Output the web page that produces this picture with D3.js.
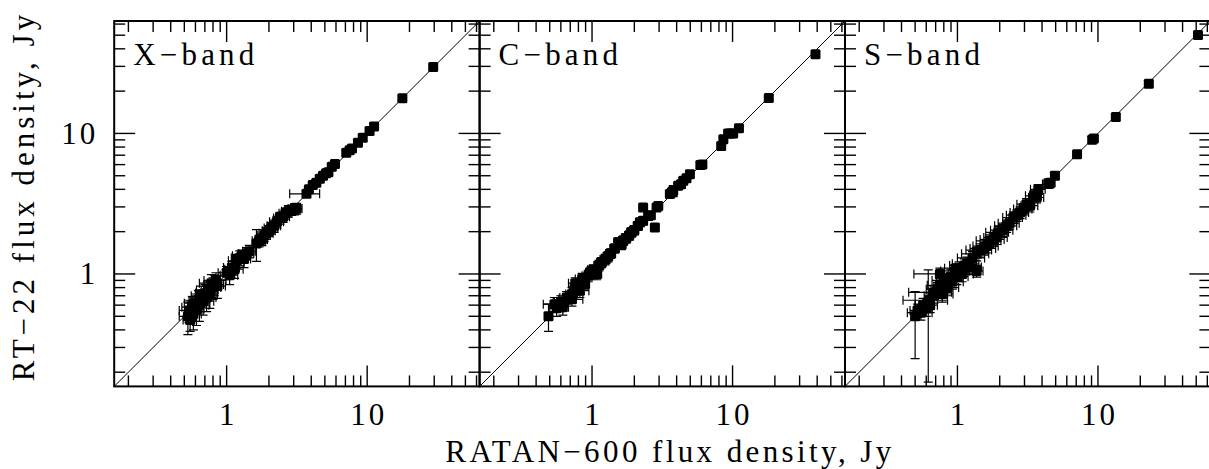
<!DOCTYPE html>
<html>
<head>
<meta charset="utf-8">
<style>
  body { margin: 0; background: #fff; }
  text { font-family: "Liberation Serif", serif; fill: #000; }
</style>
</head>
<body>
<script src="https://d3js.org/d3.v7.min.js"></script>
<script>
// ---- data ----
const bandNames = ["X\u2212band", "C\u2212band", "S\u2212band"];
const tickLabelValues = [1, 10];
const tickLabels = ["1", "10"];

// X-band
const xbandRatan = [0.53,0.54,0.55,0.57,0.58,0.60,0.61,0.63,0.64,0.66, 0.68,0.70,0.72,0.74,0.76,0.78,0.80,0.82,0.84,0.86,
  1.00,1.05,1.09,1.14,1.18,1.24,1.28,1.33,1.39,1.45,
  1.63,1.70,1.78,1.85,1.92,2.00,2.08,2.18,2.28,2.40,2.52,2.62,2.75,2.90,3.05,3.15,
  3.70,3.85,4.10,4.35,4.60,4.85,5.10,5.30,5.60,5.90,7.10,7.50,7.80,8.60,9.30,10.4,11.2,17.8,29.5];
const xbandRt22 = [0.50,0.55,0.47,0.58,0.52,0.62,0.56,0.65,0.60,0.70, 0.64,0.73,0.68,0.77,0.72,0.86,0.80,0.84,0.90,0.82,
  1.02,0.98,1.11,1.08,1.24,1.30,1.35,1.28,1.40,1.45,
  1.65,1.72,1.76,1.88,1.95,2.03,2.12,2.20,2.35,2.50,2.55,2.70,2.80,2.85,2.90,2.92,
  3.72,4.00,4.30,4.45,4.75,5.00,5.20,5.30,5.80,6.05,7.30,7.60,7.80,8.60,9.30,10.4,11.2,17.8,29.7];
const xbandRatanErr = [0.07,0.08,0.06,0.09,0.08,0.10,0.08,0.09,0.11,0.10, 0.13,0.10,0.12,0.13,0.10,0.14,0.11,0.13,0.15,0.12,
  0.13,0.15,0.14,0.17,0.15,0.16,0.18,0.15,0.17,0.15,
  0.08,0.18,0.17,0.20,0.22,0.21,0.23,0.24,0.26,0.24,0.28,0.26,0.29,0.28,0.30,0.29,
  0.89,0.20,0.22,0.20,0.24,0.25,0.26,0.26,0.28,0.30,0.35,0.35,0.38,0.40,0.45,0.50,0.55,0.80,1.30];
const xbandRt22Err = [0.13,0.10,0.08,0.11,0.12,0.10,0.13,0.11,0.14,0.12, 0.13,0.11,0.14,0.12,0.15,0.13,0.14,0.14,0.12,0.15,
  0.11,0.14,0.12,0.15,0.14,0.16,0.13,0.17,0.14,0.15,
  0.42,0.16,0.17,0.18,0.19,0.18,0.20,0.22,0.22,0.24,0.22,0.24,0.26,0.24,0.27,0.26,
  0.18,0.20,0.22,0.22,0.24,0.25,0.26,0.26,0.28,0.30,0.35,0.35,0.38,0.40,0.45,0.50,0.55,0.80,1.30];

// C-band
const cbandRatan = [0.49,0.54,0.56,0.60,0.62,0.66,0.72,0.72,0.76,0.78, 0.82,0.85,0.88,0.94,0.98,1.02,1.08,1.12,1.17,1.24,
  1.30,1.36,1.45,1.54,1.62,1.67,1.75,1.84,1.91,2.00, 2.12,2.20,2.31,2.31,2.51,2.62,2.80,2.88,2.96,3.58,
  3.70,3.78,4.10,4.30,4.46,4.70,4.97,5.90,6.10,8.30, 8.60,9.30,9.70,10.1,11.1,18.1,38.9];
const cbandRt22 = [0.50,0.61,0.57,0.63,0.58,0.68,0.66,0.72,0.86,0.79, 0.76,0.92,0.85,0.97,1.03,1.07,1.00,1.15,1.21,1.27,
  1.33,1.40,1.52,1.68,1.62,1.73,1.80,1.88,1.98,2.05, 2.20,2.33,2.39,2.97,2.59,2.62,2.14,2.97,3.05,3.70,
  3.82,3.90,4.24,4.35,4.60,4.80,5.13,5.95,6.00,8.15, 9.10,9.97,10.0,9.97,10.9,17.9,36.6];
const cbandRatanErr = [0.03,0.09,0.06,0.07,0.06,0.07,0.14,0.07,0.08,0.08, 0.13,0.09,0.08,0.09,0.08,0.09,0.09,0.09,0.09,0.10,
  0.10,0.11,0.11,0.11,0.12,0.12,0.13,0.13,0.14,0.14, 0.15,0.16,0.16,0.12,0.16,0.17,0.12,0.17,0.17,0.20,
  0.20,0.20,0.20,0.22,0.22,0.25,0.25,0.30,0.30,0.40, 0.40,0.45,0.45,0.50,0.55,0.90,1.80];
const cbandRt22Err = [0.11,0.07,0.07,0.07,0.07,0.07,0.07,0.08,0.08,0.08, 0.08,0.09,0.08,0.09,0.09,0.09,0.09,0.10,0.10,0.11,
  0.11,0.11,0.11,0.13,0.13,0.13,0.14,0.14,0.15,0.15, 0.16,0.16,0.16,0.15,0.17,0.17,0.12,0.16,0.16,0.20,
  0.20,0.35,0.20,0.22,0.22,0.25,0.25,0.30,0.30,0.40, 0.40,0.45,0.45,0.50,0.55,0.90,1.80];

// S-band
const sbandRatan = [0.50,0.52,0.55,0.57,0.60,0.62,0.63,0.64,0.68,0.68, 0.72,0.75,0.75,0.78,0.82,0.85,0.89,0.92,0.96,0.99,
  1.03,1.08,1.12,1.17,1.22,1.28,1.37,1.37,1.45,1.55, 1.62,1.70,1.80,1.90,1.95,2.10,2.24,2.35,2.50,2.65,
  2.79,2.95,3.10,3.28,3.50,3.66,3.76,4.43,4.55,4.94, 7.10,9.10,9.35,13.4,23.0,51.5];
const sbandRt22 = [0.50,0.55,0.53,0.60,0.57,0.62,0.65,0.60,0.74,0.70, 0.78,1.00,0.83,0.72,0.90,0.80,0.95,0.88,1.05,0.96,
  1.10,1.00,1.15,1.18,1.12,1.30,1.39,1.05,1.48,1.52, 1.58,1.72,1.76,1.82,1.98,2.05,2.20,2.30,2.52,2.62,
  2.74,2.90,3.14,3.06,3.60,3.50,4.00,4.36,4.45,5.00, 7.10,9.00,9.20,13.1,22.6,50.1];
const sbandRatanErr = [0.03,0.06,0.11,0.07,0.06,0.05,0.22,0.08,0.23,0.10, 0.12,0.26,0.14,0.15,0.16,0.17,0.18,0.18,0.20,0.20,
  0.22,0.22,0.24,0.25,0.26,0.28,0.30,0.15,0.30,0.32, 0.33,0.34,0.35,0.36,0.36,0.38,0.40,0.40,0.40,0.42,
  0.42,0.44,0.45,0.45,0.45,0.45,0.45,0.40,0.40,0.30, 0.40,0.45,0.45,0.60,1.00,2.00];
const sbandRt22Err = [0.25,0.06,0.06,0.07,0.07,0.45,0.07,0.07,0.08,0.08, 0.09,0.10,0.10,0.09,0.10,0.10,0.12,0.10,0.12,0.12,
  0.12,0.12,0.13,0.14,0.13,0.14,0.15,0.10,0.16,0.16, 0.17,0.18,0.18,0.20,0.20,0.20,0.22,0.22,0.24,0.25,
  0.26,0.27,0.30,0.30,0.30,0.30,0.32,0.30,0.30,0.30, 0.40,0.45,0.45,0.60,1.00,2.00];

// ---- layout ----
const W = 1209, H = 469;
const leftX = 114.2, topY = 21, size = 365.4;
const domain = [Math.pow(10, -0.8), Math.pow(10, 1.8)];
const minorLen = 11, majorLen = 21, cap = 4.5, ms = 10;

const bands = [
  {name: bandNames[0], rx: xbandRatan, ry: xbandRt22, ex: xbandRatanErr, ey: xbandRt22Err},
  {name: bandNames[1], rx: cbandRatan, ry: cbandRt22, ex: cbandRatanErr, ey: cbandRt22Err},
  {name: bandNames[2], rx: sbandRatan, ry: sbandRt22, ex: sbandRatanErr, ey: sbandRt22Err}
];

const svg = d3.select("body").append("svg").attr("width", W).attr("height", H);
svg.append("rect").attr("width", W).attr("height", H).attr("fill", "#fff");

const isMajor = d => Math.abs(Math.log10(d) - Math.round(Math.log10(d))) < 1e-9;

bands.forEach((b, i) => {
  const x0 = leftX + i * size;
  const x = d3.scaleLog().domain(domain).range([x0, x0 + size]);
  const y = d3.scaleLog().domain(domain).range([topY + size, topY]);
  const ticks = x.ticks();

  svg.append("clipPath").attr("id", "clip" + i)
    .append("rect").attr("x", x0).attr("y", topY).attr("width", size).attr("height", size);

  const g = svg.append("g");
  const plot = g.append("g").attr("clip-path", `url(#clip${i})`);

  // one-to-one line
  plot.append("line")
    .attr("x1", x(domain[0])).attr("y1", y(domain[0]))
    .attr("x2", x(domain[1])).attr("y2", y(domain[1]))
    .attr("stroke", "#000").attr("stroke-width", 1);

  const pts = b.rx.map((v, k) => ({x: v, y: b.ry[k], ex: b.ex[k], ey: b.ey[k]}));

  const eb = plot.append("g").attr("stroke", "#000").attr("stroke-width", 1.2).attr("fill", "none");
  pts.forEach(p => {
    const px = x(p.x), py = y(p.y);
    const xl = x(Math.max(p.x - p.ex, 1e-3)), xr = x(p.x + p.ex);
    const yb = y(Math.max(p.y - p.ey, 1e-3)), yt = y(p.y + p.ey);
    eb.append("path").attr("d",
      `M${xl},${py}H${xr}M${xl},${py - cap}V${py + cap}M${xr},${py - cap}V${py + cap}` +
      `M${px},${yb}V${yt}M${px - cap},${yb}H${px + cap}M${px - cap},${yt}H${px + cap}`);
  });

  plot.append("g").selectAll("rect").data(pts).enter().append("rect")
    .attr("x", d => x(d.x) - ms / 2).attr("y", d => y(d.y) - ms / 2)
    .attr("width", ms).attr("height", ms).attr("rx", 1.5)
    .attr("fill", "#000");

  // ticks on all four sides
  const tk = g.append("g").attr("stroke", "#000").attr("stroke-width", 1.4);
  ticks.forEach(t => {
    const L = isMajor(t) ? majorLen : minorLen;
    const px = x(t), py = y(t);
    tk.append("line").attr("x1", px).attr("x2", px).attr("y1", topY + size).attr("y2", topY + size - L);
    tk.append("line").attr("x1", px).attr("x2", px).attr("y1", topY).attr("y2", topY + L);
    tk.append("line").attr("y1", py).attr("y2", py).attr("x1", x0).attr("x2", x0 + L);
    tk.append("line").attr("y1", py).attr("y2", py).attr("x1", x0 + size).attr("x2", x0 + size - L);
  });

  g.append("rect").attr("x", x0).attr("y", topY).attr("width", size).attr("height", size)
    .attr("fill", "none").attr("stroke", "#000").attr("stroke-width", 2);

  // x tick labels
  g.selectAll("text.xl").data(tickLabelValues).enter().append("text")
    .attr("class", "xl")
    .attr("x", d => x(d) + 1.5).attr("y", topY + size + 38.6)
    .attr("text-anchor", "middle")
    .attr("font-size", 31).attr("letter-spacing", 3)
    .text((d, k) => tickLabels[k]);

  // y tick labels on the first panel only
  if (i === 0) {
    g.selectAll("text.yl").data(tickLabelValues).enter().append("text")
      .attr("class", "yl")
      .attr("x", x0 - 16).attr("y", d => y(d) + 10.5)
      .attr("text-anchor", "end")
      .attr("font-size", 31).attr("letter-spacing", 3)
      .text((d, k) => tickLabels[k]);
  }

  g.append("text")
    .attr("x", x0 + 19).attr("y", topY + 44)
    .attr("font-size", 31).attr("letter-spacing", 4.2)
    .text(b.name);
});

svg.append("text")
  .attr("x", 670).attr("y", 461.5)
  .attr("text-anchor", "middle")
  .attr("font-size", 31).attr("letter-spacing", 3.4)
  .text("RATAN\u2212600 flux density, Jy");

svg.append("text")
  .attr("transform", "translate(34,196) rotate(-90)")
  .attr("text-anchor", "middle")
  .attr("font-size", 31).attr("letter-spacing", 4)
  .text("RT\u221222 flux density, Jy");
</script>
</body>
</html>
